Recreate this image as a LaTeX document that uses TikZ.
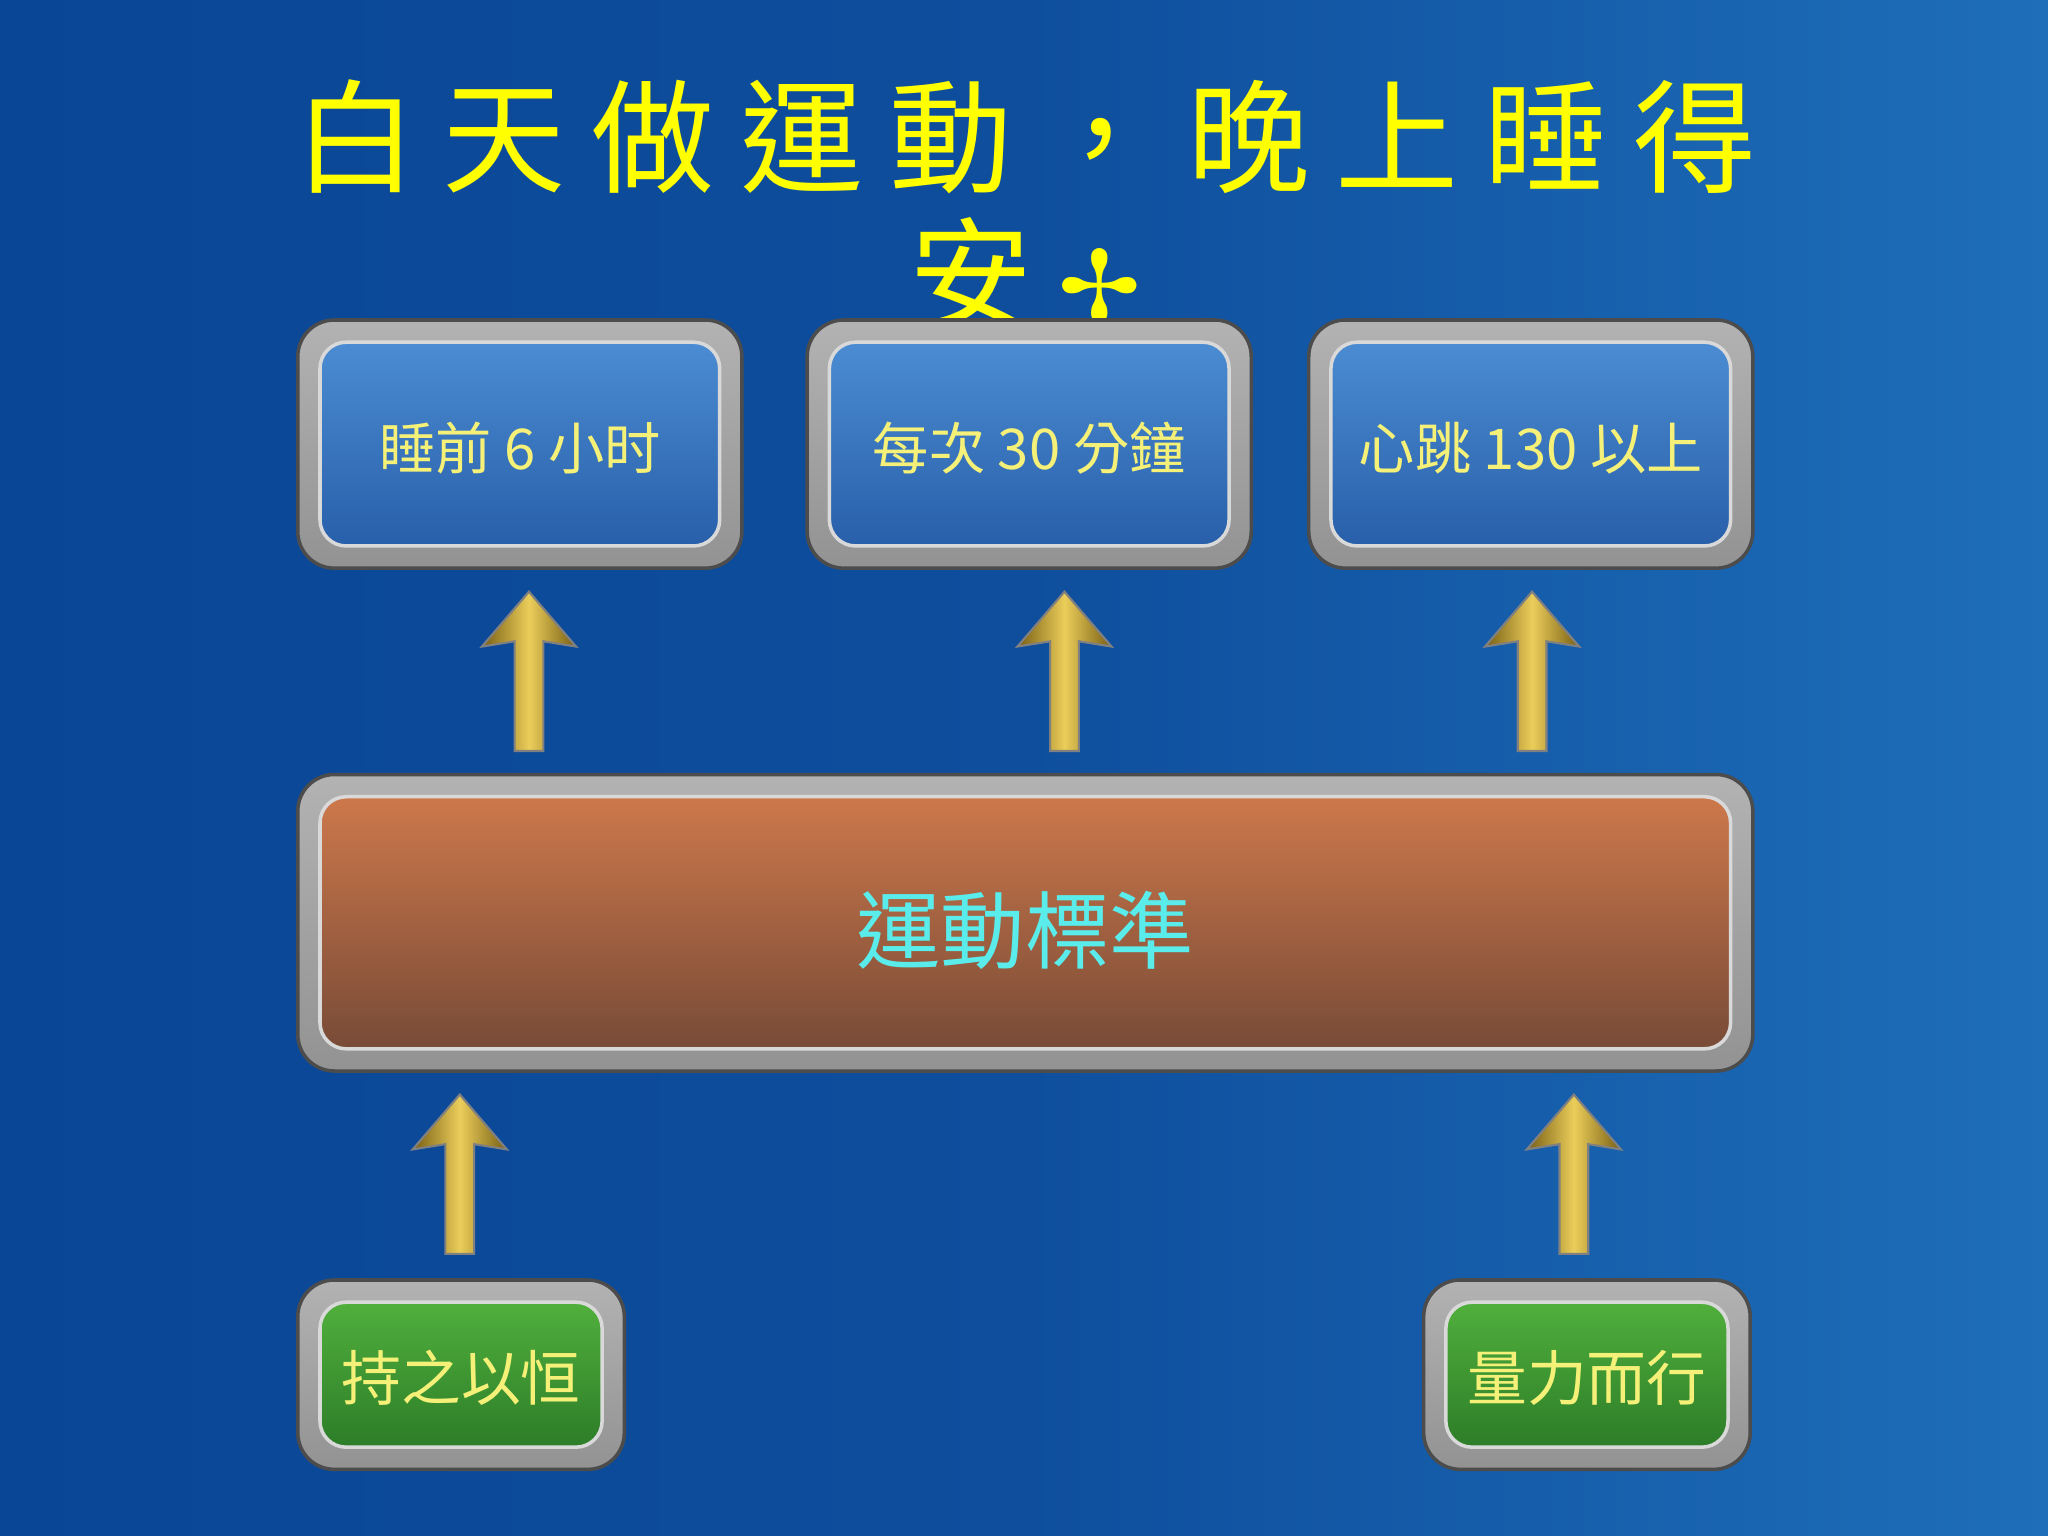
\documentclass[tikz,border=0pt]{standalone}
\usepackage{fontspec}
\newfontfamily\cjk{Noto Sans CJK TC}
\newfontfamily\sym{DejaVu Sans}
\usetikzlibrary{shadings}
\definecolor{bgA}{RGB}{10,70,150}
\definecolor{bgB}{RGB}{30,110,185}
\definecolor{ttl}{RGB}{255,255,0}
\definecolor{txt}{RGB}{245,240,120}
\definecolor{cyantxt}{RGB}{90,235,235}
\newcommand\tsp{\hspace{0.21em}}
\tikzset{
 frame/.style={rounded corners=28*0.01306cm, draw=black!70, line width=1pt, top color=gray!60, bottom color=gray!85},
 bluein/.style={rounded corners=20*0.01306cm, draw=gray!30, line width=1pt, top color={rgb,255:red,75;green,140;blue,210}, bottom color={rgb,255:red,40;green,95;blue,170}},
 orangein/.style={rounded corners=20*0.01306cm, draw=gray!30, line width=1pt, top color={rgb,255:red,205;green,120;blue,75}, bottom color={rgb,255:red,120;green,75;blue,55}},
 greenin/.style={rounded corners=20*0.01306cm, draw=gray!30, line width=1pt, top color={rgb,255:red,80;green,175;blue,60}, bottom color={rgb,255:red,45;green,125;blue,40}},
 lbl/.style={text=txt, font=\cjk\fontsize{16}{18}\selectfont},
 goldarrow/.style={draw=black!50, line width=0.6pt, left color={rgb,255:red,120;green,95;blue,20}, right color={rgb,255:red,120;green,95;blue,20}, middle color={rgb,255:red,235;green,205;blue,90}},
}
\newcommand\uparr[3]{% x, ybottom, ytop
 \fill[goldarrow] (#1-11,#2) -- (#1+11,#2) -- (#1+11,#3+38) -- (#1+36,#3+42) -- (#1,#3) -- (#1-36,#3+42) -- (#1-11,#3+38) -- cycle;}
\begin{document}
\begin{tikzpicture}[x=0.01306cm,y=-0.01306cm]
\shade[left color=bgA, right color=bgB, middle color=bgA!80!bgB] (0,0) rectangle (1568,1176);
\useasboundingbox (0,0) rectangle (1568,1176);
% title
\node[text=ttl, font=\cjk\fontsize{35}{36}\selectfont] (t1) at (785,105) {白\tsp 天\tsp 做\tsp 運\tsp 動\tsp ，\tsp 晚\tsp 上\tsp 睡\tsp 得};
\node[text=ttl, font=\cjk\fontsize{35}{36}\selectfont] (t2) at (785,210) {安\tsp{\sym\fontsize{28}{30}\selectfont ✢}};
% top boxes
\foreach \n/\x/\t in {a/398/睡前 6 小时, b/788/每次 30 分鐘, c/1172/心跳 130 以上}{
 \draw[frame] (\x-170,245) rectangle (\x+170,435);
 \draw[bluein] (\x-153,262) rectangle (\x+153,418);
 \node[lbl] (\n) at (\x,343) {\t};
}
% centre
\draw[frame] (228,593) rectangle (1342,820);
\draw[orangein] (245,610) rectangle (1325,803);
\node[text=cyantxt, font=\cjk\fontsize{24}{26}\selectfont] (m) at (785,712) {運動標準};
% bottom
\draw[frame] (228,980) rectangle (478,1125);
\draw[greenin] (245,997) rectangle (461,1108);
\node[lbl, font=\cjk\fontsize{17}{19}\selectfont] (g1) at (353,1055) {持之以恒};
\draw[frame] (1090,980) rectangle (1340,1125);
\draw[greenin] (1107,997) rectangle (1323,1108);
\node[lbl, font=\cjk\fontsize{17}{19}\selectfont] (g2) at (1215,1055) {量力而行};
% arrows
\uparr{405}{575}{453}
\uparr{815}{575}{453}
\uparr{1173}{575}{453}
\uparr{352}{960}{838}
\uparr{1205}{960}{838}
\end{tikzpicture}
\end{document}
